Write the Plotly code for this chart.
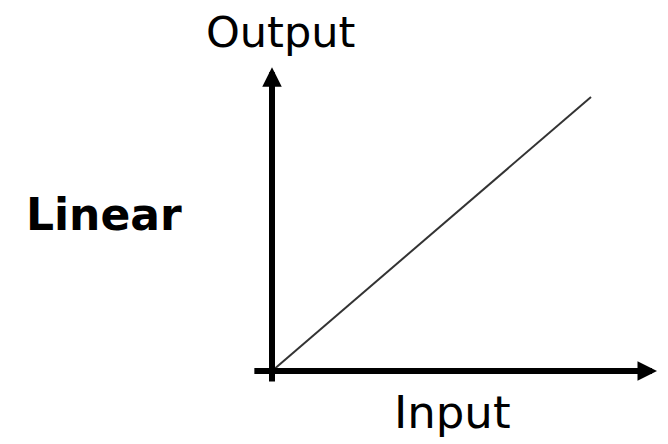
import plotly.graph_objects as go

# Data: linear relationship output = input
input_vals = [0, 1]
output_vals = [0, 1]

x_axis_label = "Input"
y_axis_label = "Output"
chart_label = "Linear"

# axis extents (data units)
x_axis_start, x_axis_end = -0.06, 1.207
y_axis_start, y_axis_end = -0.044, 1.109

fig = go.Figure()
fig.add_trace(go.Scatter(
    x=input_vals, y=output_vals, mode="lines",
    line=dict(color="#333333", width=2), hoverinfo="skip", showlegend=False,
))

font = "DejaVu Sans, Verdana, sans-serif"
# axes with arrows
fig.add_annotation(x=x_axis_end, y=0, ax=x_axis_start, ay=0, xref="x", yref="y",
                   axref="x", ayref="y", text="", showarrow=True, arrowhead=2,
                   arrowwidth=6, arrowsize=0.65, arrowcolor="black", standoff=0)
fig.add_annotation(x=0, y=y_axis_end, ax=0, ay=y_axis_start, xref="x", yref="y",
                   axref="x", ayref="y", text="", showarrow=True, arrowhead=2,
                   arrowwidth=6, arrowsize=0.65, arrowcolor="black", standoff=0)

fig.add_annotation(x=0.4072, y=0.946, xref="paper", yref="paper", text=y_axis_label,
                   showarrow=False, font=dict(family=font, size=43, color="black"),
                   xanchor="center", yanchor="middle", borderpad=0)
fig.add_annotation(x=0.6654, y=0.088, xref="paper", yref="paper", text=x_axis_label,
                   showarrow=False, font=dict(family=font, size=45, color="black"),
                   xanchor="center", yanchor="middle")
fig.add_annotation(x=0.1437, y=0.534, xref="paper", yref="paper", text="<b>" + chart_label + "</b>",
                   showarrow=False, font=dict(family=font, size=44, color="black"),
                   xanchor="center", yanchor="middle")

fig.update_layout(
    width=668, height=444,
    margin=dict(l=0, r=0, t=0, b=0),
    paper_bgcolor="white", plot_bgcolor="white",
    xaxis=dict(range=[-264/319, 404/319], visible=False, fixedrange=True),
    yaxis=dict(range=[-81/274, 363/274], visible=False, fixedrange=True),
)

fig.write_html("out.html")
